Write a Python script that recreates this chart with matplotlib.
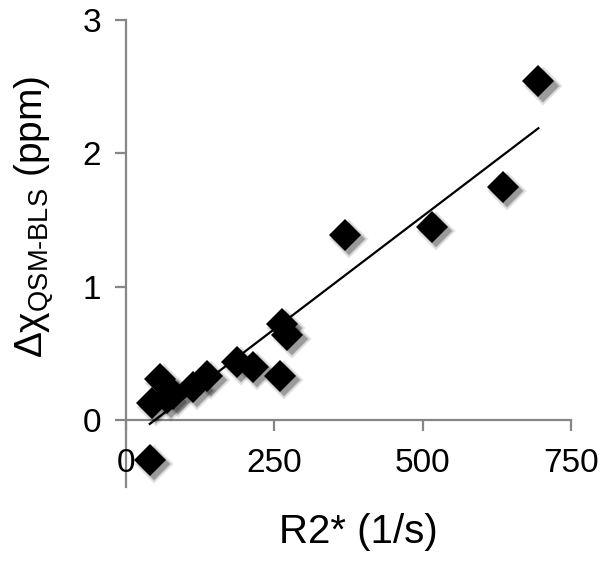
import numpy as np
import matplotlib
matplotlib.use("Agg")
import matplotlib.pyplot as plt
import matplotlib.transforms as mtransforms

# data
r2star = [40, 43, 57, 69, 80, 113, 136, 187, 214, 259, 263, 272, 369, 515, 635, 695]
dchi = [-0.30, 0.13, 0.31, 0.17, 0.20, 0.25, 0.33, 0.44, 0.40, 0.33, 0.72, 0.64, 1.39, 1.45, 1.75, 2.54]
xticks = [0, 250, 500, 750]
yticks = [0, 1, 2, 3]

plt.rcParams['font.family'] = ['Liberation Sans', 'DejaVu Sans']
plt.rcParams['mathtext.fontset'] = 'custom'
plt.rcParams['mathtext.rm'] = 'Liberation Sans'
plt.rcParams['mathtext.it'] = 'Liberation Sans'
plt.rcParams['mathtext.bf'] = 'Liberation Sans:bold'

W, H = 607, 570
fig = plt.figure(figsize=(W / 100, H / 100), dpi=100)
ax = fig.add_axes([126 / W, 1 - 487 / H, (571 - 126) / W, (487 - 20) / H])
ax.set_xlim(0, 750)
ax.set_ylim(-0.5, 3)

gray = '#868686'
for s in ['top', 'right']:
    ax.spines[s].set_visible(False)
ax.spines['bottom'].set_position(('data', 0))
for s in ['left', 'bottom']:
    ax.spines[s].set_color(gray)
    ax.spines[s].set_linewidth(1.6)
    ax.spines[s].set_zorder(1)

ax.set_xticks(xticks)
ax.set_yticks(yticks)
ax.tick_params(axis='x', direction='out', length=8, width=1.6, color=gray,
               labelsize=24, pad=12)
ax.tick_params(axis='y', direction='out', length=8, width=1.6, color=gray,
               labelsize=24, pad=10)
ax.set_xticklabels([str(t) for t in xticks])
ax.set_yticklabels([str(t) for t in yticks])

x = np.array(r2star, dtype=float)
y = np.array(dchi, dtype=float)

# shadow layers (soft blurred look)
for off, ms, a in [(3.0, 20.5, 0.05), (3.0, 19, 0.08), (3.0, 17.5, 0.13), (3.0, 16.5, 0.2)]:
    tr = mtransforms.offset_copy(ax.transData, fig=fig, x=off, y=-off, units='points')
    ax.plot(x, y, linestyle='none', marker='D', markersize=ms, color='#000000',
            alpha=a, markeredgewidth=0, transform=tr, zorder=2, clip_on=False)

ax.plot(x, y, linestyle='none', marker='D', markersize=16.5, color='black',
        markeredgewidth=0, zorder=3, clip_on=False)

# linear trendline
k, b = np.polyfit(x, y, 1)
xl = np.array([x.min(), x.max()])
ax.plot(xl, k * xl + b, color='black', linewidth=1.6, zorder=4)

fig.text(358 / W, 1 - 532 / H, 'R2* (1/s)', ha='center', va='center', fontsize=29)
fig.text(34 / W, 1 - 217 / H, r'$\mathrm{\Delta\chi}_{\mathrm{QSM\text{-}BLS}}$ (ppm)',
         ha='center', va='center', fontsize=28, rotation=90)

fig.savefig('out.png', dpi=100)
